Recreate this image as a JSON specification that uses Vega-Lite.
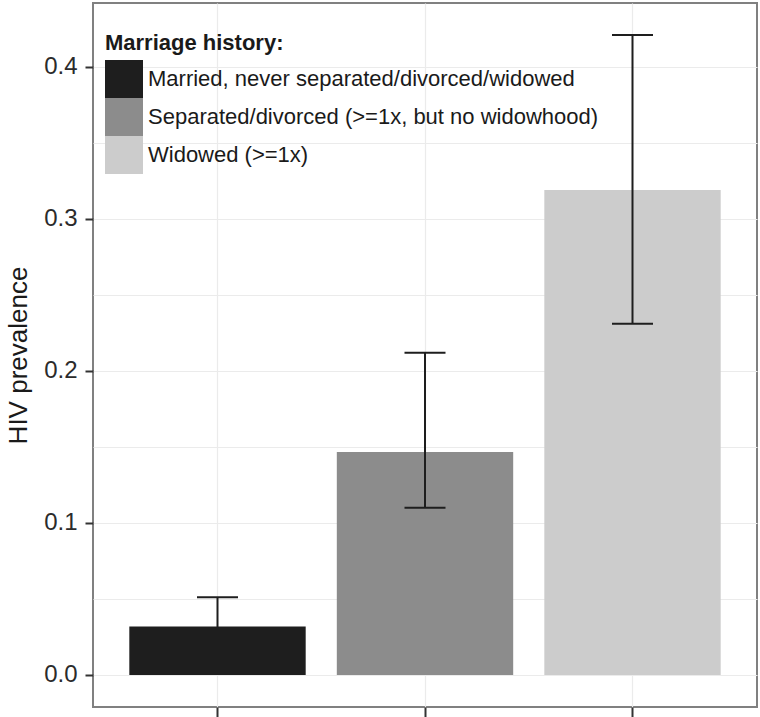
{
  "$schema": "https://vega.github.io/schema/vega-lite/v6.json",
  "width": 664,
  "height": 704,
  "autosize": {"type": "none"},
  "padding": {"left": 93, "top": 3, "right": 3, "bottom": 10},
  "background": "white",
  "config": {
    "font": "Liberation Sans",
    "view": {"stroke": "#808080", "strokeWidth": 2}
  },
  "data": {"values": [
    {"history": "Married, never separated/divorced/widowed", "prevalence": 0.0318, "lower": 0.019, "upper": 0.0511},
    {"history": "Separated/divorced (>=1x, but no widowhood)", "prevalence": 0.1467, "lower": 0.110, "upper": 0.212},
    {"history": "Widowed (>=1x)", "prevalence": 0.319, "lower": 0.231, "upper": 0.421}
  ]},
  "encoding": {
    "x": {
      "field": "history", "type": "nominal", "sort": null,
      "scale": {"paddingInner": 0.15, "paddingOuter": 0.175},
      "axis": {"title": null, "labels": false, "domain": false, "tickSize": 10, "tickWidth": 2, "tickColor": "#333333", "grid": true, "gridColor": "#ebebeb", "gridWidth": 1.2, "bandPosition": 0.5}
    }
  },
  "layer": [
    {
      "mark": {"type": "bar"},
      "encoding": {
        "y": {
          "field": "prevalence", "type": "quantitative",
          "scale": {"domain": [-0.0211, 0.4421], "nice": false, "zero": false},
          "axis": {
            "title": "HIV prevalence",
            "titleFontSize": 26, "titleFontWeight": "normal", "titleColor": "#1a1a1a", "titlePadding": 12,
            "values": [0, 0.05, 0.1, 0.15, 0.2, 0.25, 0.3, 0.35, 0.4],
            "labelExpr": "round(datum.value*100) % 10 === 0 ? format(datum.value, '.1f') : ''",
            "labelFontSize": 24, "labelColor": "#2b2b2b", "labelPadding": 8,
            "domain": false, "tickSize": 8, "tickWidth": 2, "tickColor": "#333333",
            "tickOpacity": {"condition": {"test": "round(datum.value*100) % 10 === 0", "value": 1}, "value": 0},
            "grid": true, "gridColor": "#ebebeb", "gridWidth": 1.2
          }
        },
        "y2": {"datum": 0},
        "fill": {
          "field": "history", "type": "nominal", "sort": null,
          "scale": {"range": ["#1e1e1e", "#8c8c8c", "#cccccc"]},
          "legend": {
            "title": "Marriage history:", "orient": "none", "legendX": 12, "legendY": 30,
            "titleFontSize": 22, "titleFontWeight": "bold", "titleColor": "#1a1a1a", "titlePadding": 5,
            "labelFontSize": 22, "labelColor": "#1a1a1a", "labelOffset": 5, "labelLimit": 600,
            "symbolType": "square", "symbolSize": 1444, "symbolStrokeWidth": 0,
            "rowPadding": 0, "padding": 0
          }
        }
      }
    },
    {
      "mark": {"type": "rule", "color": "#1e1e1e", "strokeWidth": 2},
      "encoding": {
        "y": {"field": "lower", "type": "quantitative"},
        "y2": {"field": "upper"}
      }
    },
    {
      "mark": {"type": "tick", "orient": "horizontal", "size": 41, "thickness": 2, "color": "#1e1e1e", "opacity": 1},
      "encoding": {"y": {"field": "upper", "type": "quantitative"}}
    },
    {
      "mark": {"type": "tick", "orient": "horizontal", "size": 41, "thickness": 2, "color": "#1e1e1e", "opacity": 1},
      "encoding": {"y": {"field": "lower", "type": "quantitative"}}
    }
  ]
}
